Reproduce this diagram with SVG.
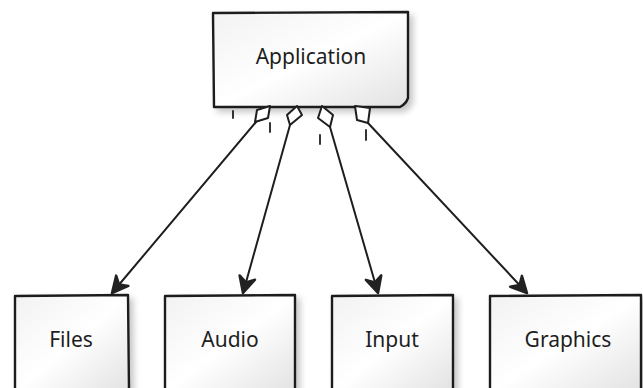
<svg xmlns="http://www.w3.org/2000/svg" width="643" height="388" viewBox="0 0 643 388">
<defs>
<linearGradient id="g" x1="0" y1="0" x2="1" y2="1">
<stop offset="0" stop-color="#f2f2f2"/>
<stop offset="0.5" stop-color="#ffffff"/>
<stop offset="1" stop-color="#e2e2e2"/>
</linearGradient>
<filter id="sh" x="-10%" y="-10%" width="130%" height="130%">
<feDropShadow dx="4" dy="4" stdDeviation="3" flood-color="#000" flood-opacity="0.22"/>
</filter>
<marker id="arr" viewBox="0 0 22 22" refX="19" refY="11" markerWidth="22" markerHeight="22" markerUnits="userSpaceOnUse" orient="auto">
<path d="M3,3 L19,11 L3,19 L8,11 Z" fill="#222" stroke="#222" stroke-width="2.5" stroke-linejoin="round"/>
</marker>
</defs>
<style>
.box{fill:url(#g);stroke:#1e1e1e;stroke-width:2.4;stroke-linejoin:round;filter:url(#sh)}
.lbl{font-family:"Noto Sans","DejaVu Sans",sans-serif;font-size:21px;fill:#1e1e1e;text-anchor:middle}
.con{fill:none;stroke:#1e1e1e;stroke-width:2;stroke-linecap:round}
.dia{fill:#fff;stroke:#1e1e1e;stroke-width:2;stroke-linejoin:round}
.tick{stroke:#1e1e1e;stroke-width:1.8;stroke-linecap:round}
</style>
<rect width="643" height="388" fill="#fff"/>
<g id="node-application">
<path class="box" d="M213,13 L408,12 L408,98 Q406,104 400,107 L214,107 Z"/>
<text class="lbl" x="311" y="64">Application</text>
</g>
<g id="node-files">
<path class="box" d="M15,296 L128,295 L129,392 L15,392 Z"/>
<text class="lbl" x="71" y="347">Files</text>
</g>
<g id="node-audio">
<path class="box" d="M165,296 L295,295 L295,392 L165,392 Z"/>
<text class="lbl" x="230" y="347">Audio</text>
</g>
<g id="node-input">
<path class="box" d="M332,296 L453,295 L453,392 L332,392 Z"/>
<text class="lbl" x="392" y="347">Input</text>
</g>
<g id="node-graphics">
<path class="box" d="M490,296 L641,295 L641,392 L490,392 Z"/>
<text class="lbl" x="568" y="347">Graphics</text>
</g>
<g id="connectors">
<path class="con" d="M256,122 L112,293" marker-end="url(#arr)"/>
<path class="con" d="M290,125 L243,293" marker-end="url(#arr)"/>
<path class="con" d="M330,127 L378,293" marker-end="url(#arr)"/>
<path class="con" d="M368,123 L527,293" marker-end="url(#arr)"/>
<path class="dia" d="M257,110 L270,106 L268,118 L255,122 Z"/>
<path class="dia" d="M297,106 L302,115 L290,125 L287,115 Z"/>
<path class="dia" d="M322,106 L333,115 L330,127 L318,118 Z"/>
<path class="dia" d="M355,106 L370,108 L368,123 L357,120 Z"/>
<line class="tick" x1="233" y1="111" x2="233" y2="118"/>
<line class="tick" x1="270" y1="123" x2="270" y2="132"/>
<line class="tick" x1="320" y1="135" x2="320" y2="144"/>
<line class="tick" x1="366" y1="130" x2="366" y2="140"/>
</g>
</svg>
